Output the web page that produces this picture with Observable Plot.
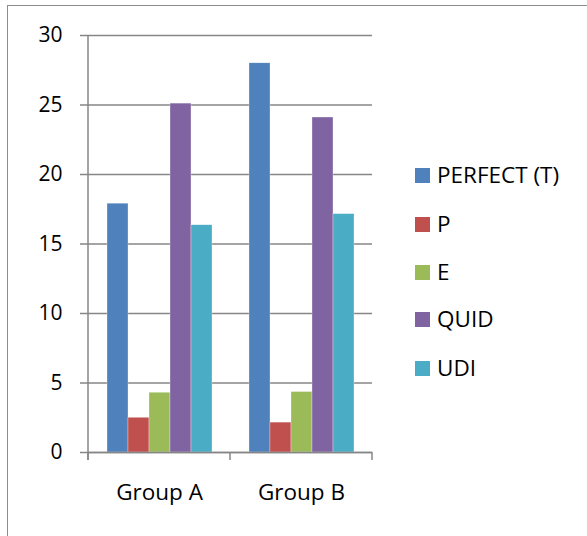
<!DOCTYPE html>
<html>
<head>
<meta charset="utf-8">
<script src="https://cdn.jsdelivr.net/npm/d3@7"></script>
<script src="https://cdn.jsdelivr.net/npm/@observablehq/plot@0.6"></script>
<style>
  html, body { margin: 0; padding: 0; background: #fff; }
  #wrap { position: relative; width: 587px; height: 536px; overflow: hidden; font-family: "Open Sans", sans-serif; }
  #border { position: absolute; left: 7px; top: 5px; width: 700px; height: 700px; border: 1.5px solid #8c8c8c; box-sizing: border-box; }
  #chart { position: absolute; left: 0; top: 0; }
  #legend { position: absolute; left: 415px; top: 0; }
  .li { position: absolute; left: 0; display: flex; align-items: center; white-space: nowrap; font-size: 22.5px; color: #000; line-height: 1; }
  .sw { width: 15px; height: 15px; margin-right: 7px; }
</style>
</head>
<body>
<div id="wrap">
  <div id="border"></div>
  <div id="chart"></div>
  <div id="legend"></div>
</div>
<script>
const groups = ["Group A", "Group B"];
const series = ["PERFECT (T)", "P", "E", "QUID", "UDI"];
const groupA = [17.9, 2.5, 4.3, 25.1, 16.35];
const groupB = [28.0, 2.15, 4.35, 24.1, 17.15];
const colors = ["#4F81BD", "#C0504D", "#9BBB59", "#8064A2", "#4BACC6"];
const yTicks = [0, 5, 10, 15, 20, 25, 30];

const values = [groupA, groupB];
const data = [];
groups.forEach((g, gi) => series.forEach((s, si) => data.push({group: g, series: s, value: values[gi][si]})));

const plot = Plot.plot({
  width: 587,
  height: 536,
  marginLeft: 88,
  marginRight: 215,
  marginTop: 35,
  marginBottom: 84,
  style: {fontFamily: "'Open Sans', sans-serif", fontSize: "21px", color: "#000", background: "transparent"},
  fx: {domain: groups, paddingInner: 0, paddingOuter: 0, label: null},
  x: {domain: series, paddingInner: 0, paddingOuter: 0.787, axis: null},
  y: {domain: [0, 30], label: null},
  color: {domain: series, range: colors},
  marks: [
    Plot.ruleY(yTicks, {stroke: "#868686", strokeWidth: 1.5, strokeOpacity: 1}),
    Plot.barY(data, {fx: "group", x: "series", y: "value", fill: "series", stroke: "#fff", strokeWidth: 0.5, strokeOpacity: 0.6}),
    Plot.axisY({ticks: yTicks, tickSize: 8, tickPadding: 18, stroke: "#868686", strokeWidth: 1.5, fontSize: 21, label: null}),
    Plot.axisFx({anchor: "bottom", tickSize: 0, tickPadding: 32, fontSize: 22.5, label: null}),
    Plot.ruleY([0], {stroke: "#868686", strokeWidth: 1.5})
  ]
});
document.getElementById("chart").appendChild(plot);

// Axis lines and group separator ticks, derived from the scales
const svg = d3.select(plot);
const fx = plot.scale("fx");
const ys = plot.scale("y");
const y0 = ys.apply(0), y30 = ys.apply(30);
const xs = groups.map(g => fx.apply(g));
const bw = fx.bandwidth;
const left = xs[0];
const edges = [...xs, xs[xs.length - 1] + bw];
const g = svg.append("g").attr("stroke", "#868686").attr("stroke-width", 1.5);
g.append("line").attr("x1", left).attr("x2", left).attr("y1", y30).attr("y2", y0 + 8);
edges.forEach(e => g.append("line").attr("x1", e).attr("x2", e).attr("y1", y0).attr("y2", y0 + 8));

// Legend
const legendTops = [175, 224, 272, 319, 368];
const lg = document.getElementById("legend");
series.forEach((s, i) => {
  const d = document.createElement("div");
  d.className = "li";
  d.style.top = (legendTops[i] - 13) + "px";
  d.style.height = "26px";
  d.innerHTML = `<div class="sw" style="background:${colors[i]}"></div><span>${s}</span>`;
  lg.appendChild(d);
});
</script>
</body>
</html>
